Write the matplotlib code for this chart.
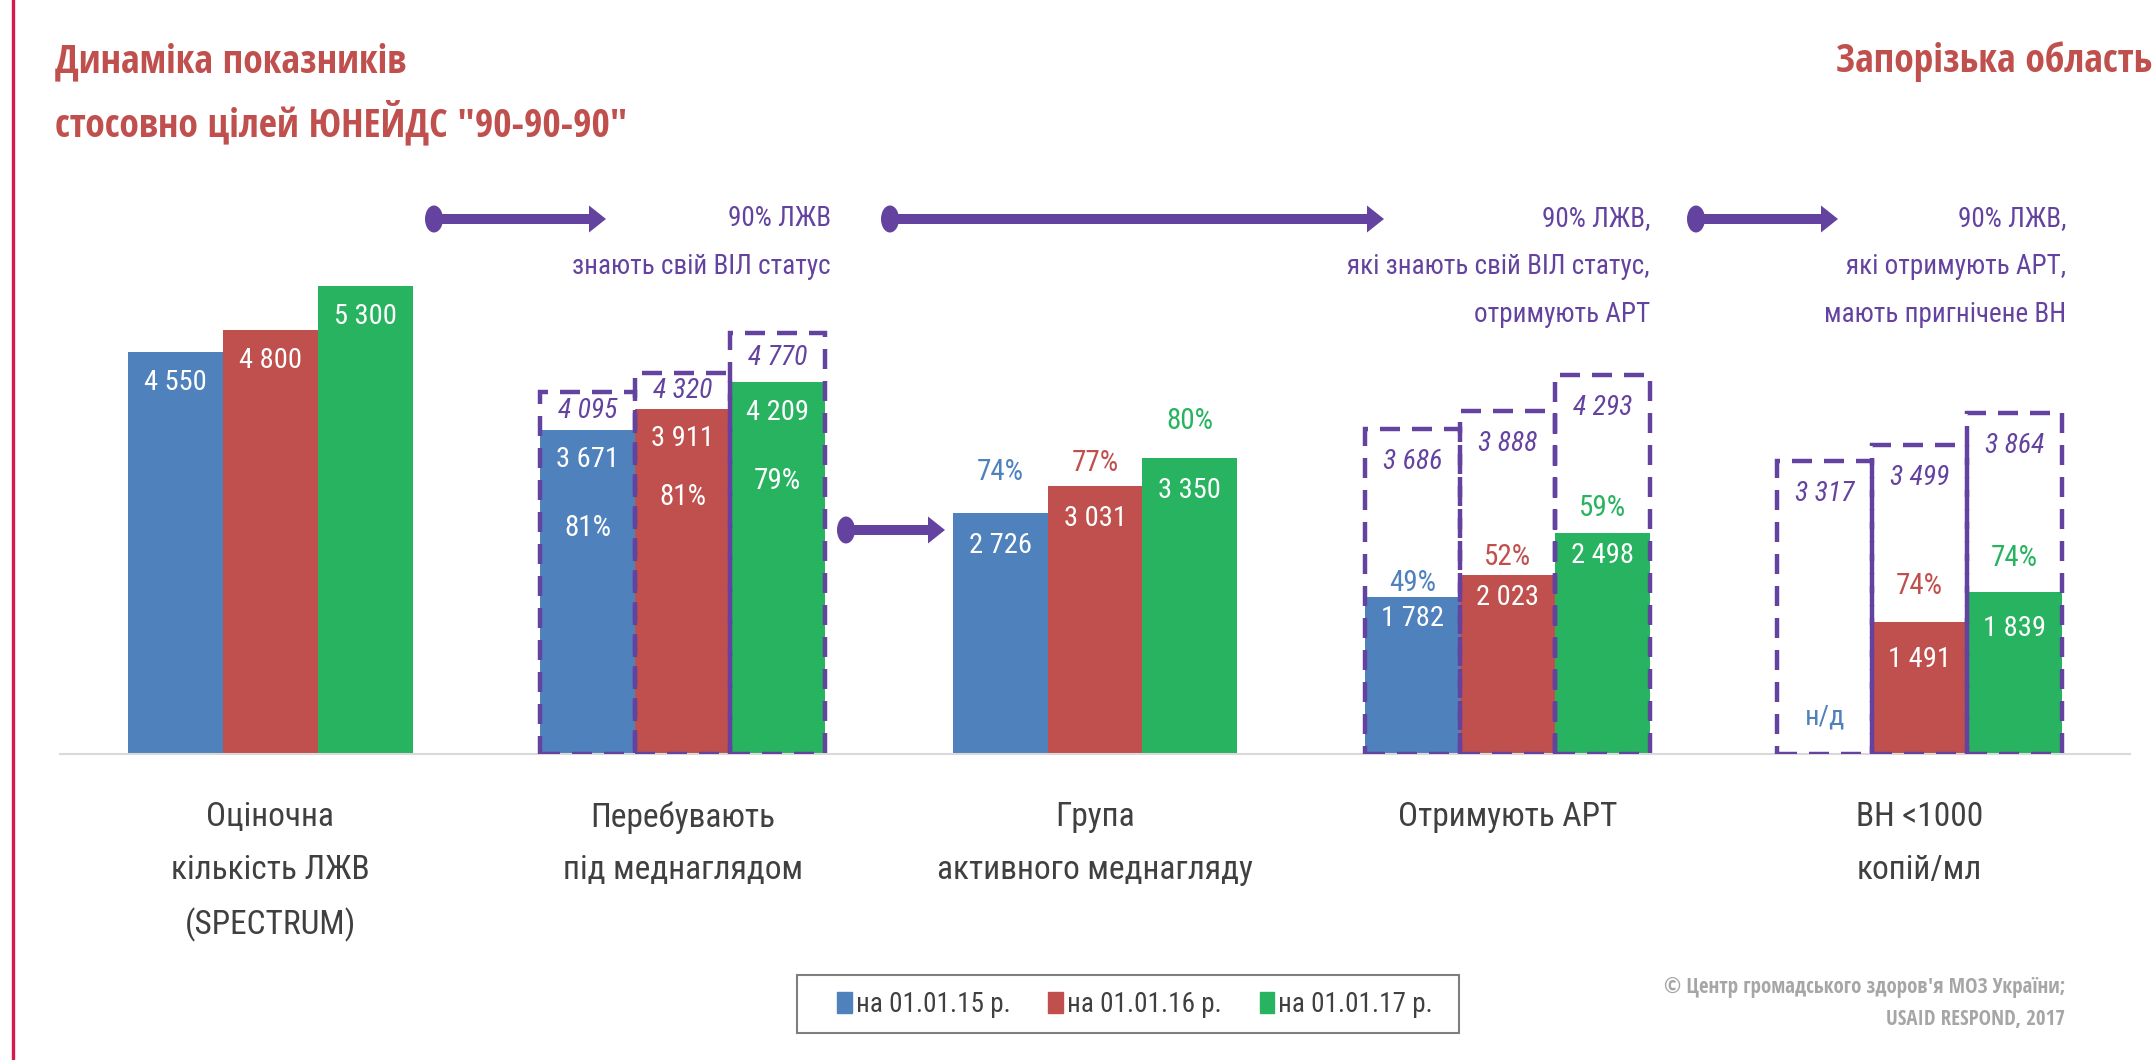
import matplotlib
matplotlib.use('Agg')
import matplotlib.pyplot as plt
import numpy as np
from matplotlib import font_manager
from matplotlib.patches import Ellipse, FancyArrow, Patch, Rectangle

# Data
categories = ['Оціночна\nкількість ЛЖВ\n(SPECTRUM)', 'Перебувають\nпід меднаглядом',
              'Група\nактивного меднагляду', 'Отримують АРТ', 'ВН <1000\nкопій/мл']
series_labels = ['на 01.01.15 р.', 'на 01.01.16 р.', 'на 01.01.17 р.']
values_15 = [4550, 3671, 2726, 1782, np.nan]
values_16 = [4800, 3911, 3031, 2023, 1491]
values_17 = [5300, 4209, 3350, 2498, 1839]
target_15 = [np.nan, 4095, np.nan, 3686, 3317]
target_16 = [np.nan, 4320, np.nan, 3888, 3499]
target_17 = [np.nan, 4770, np.nan, 4293, 3864]
pct_15 = [np.nan, 81, 74, 49, np.nan]
pct_16 = [np.nan, 81, 77, 52, 74]
pct_17 = [np.nan, 79, 80, 59, 74]
no_data = 'н/д'

goal_texts = [['90% ЛЖВ', 'знають свій ВІЛ статус'],
              ['90% ЛЖВ,', 'які знають свій ВІЛ статус,', 'отримують АРТ'],
              ['90% ЛЖВ,', 'які отримують АРТ,', 'мають пригнічене ВН']]

# Styles
COLORS = ['#4f81bd', '#c0504d', '#27b35f']
PURPLE = '#6443a0'
TITLE_RED = '#c0504d'
GRAY_TEXT = '#404040'

# narrow fonts, the slide was squeezed sideways
names = {f.name for f in font_manager.fontManager.ttflist}
REG = next((n for n in ['Liberation Sans Narrow', 'Open Sans Condensed Light', 'Roboto Condensed',
                        'Liberation Sans'] if n in names), 'DejaVu Sans')
BOLD = next((n for n in ['Open Sans Condensed', 'Liberation Sans Narrow', 'Liberation Sans']
             if n in names), 'DejaVu Sans')
plt.rcParams['font.family'] = [REG, 'DejaVu Sans']

W, H = 2155, 1060
fig = plt.figure(figsize=(W / 100, H / 100), dpi=100)

# main axes: baseline at y=754px, 0.0883 px per person
ax = fig.add_axes([60 / W, 1 - 754 / H, 2070 / W, 0.4998])
ax.set_xlim(-0.51, 4.51)
ax.set_ylim(0, 6000)
for s in ['top', 'right', 'left']:
    ax.spines[s].set_visible(False)
ax.spines['bottom'].set_color('#d9d9d9')
ax.spines['bottom'].set_linewidth(1.5)
ax.set_yticks([])

x = np.arange(len(categories))
width = 0.23
offsets = [-width, 0, width]
all_values = [values_15, values_16, values_17]
all_targets = [target_15, target_16, target_17]
all_pct = [pct_15, pct_16, pct_17]

ax.set_xticks(x, categories)
ax.tick_params(axis='x', length=0, pad=34, labelsize=24, labelcolor=GRAY_TEXT)
for lbl in ax.get_xticklabels():
    lbl.set_linespacing(1.82)

value_off = [30, 30, 32, 22, 37]
# pixel offset of the % label from the bar top, per series and group
pct_off = [[0, -98, 41, 14, 0],
           [0, -88, 23, 18, 36],
           [0, -99, 37, 25, 34]]


def fmt(v):
    return f'{int(v):,}'.replace(',', ' ')


for i in range(3):
    vals = np.array(all_values[i], dtype=float)
    tgts = np.array(all_targets[i], dtype=float)
    ax.bar(x + offsets[i], vals, width, color=COLORS[i], zorder=2, label=series_labels[i])
    ax.bar(x + offsets[i], tgts, width, fill=False, edgecolor=PURPLE, linewidth=3.2,
           linestyle=(0, (4.5, 2.7)), zorder=3)
    for g in range(len(categories)):
        xc = x[g] + offsets[i]
        v = vals[g]
        if not np.isnan(v):
            ax.annotate(fmt(v), (xc, v), xytext=(0, -value_off[g]), textcoords='offset pixels',
                        ha='center', va='center', color='white', fontsize=20.5, zorder=4)
        else:
            ax.annotate(no_data, (xc, 0), xytext=(0, 37), textcoords='offset pixels',
                        ha='center', va='center', color=COLORS[i], fontsize=20.5, zorder=4)
        t = tgts[g]
        if not np.isnan(t):
            if g == 1:
                ty, toff = (t + v) / 2, 0
            else:
                ty, toff = t, -33
            ax.annotate(fmt(t), (xc, ty), xytext=(0, toff), textcoords='offset pixels',
                        ha='center', va='center', color=PURPLE, fontsize=20,
                        style='italic', zorder=4)
        p = all_pct[i][g]
        if not np.isnan(p):
            off = pct_off[i][g]
            ax.annotate(f'{int(p)}%', (xc, v), xytext=(0, off), textcoords='offset pixels',
                        ha='center', va='center', color='white' if off < 0 else COLORS[i],
                        fontsize=21, zorder=4)

# overlay in pixel coordinates for slide decorations
ov = fig.add_axes([0, 0, 1, 1], zorder=5)
ov.set_xlim(0, W)
ov.set_ylim(H, 0)
ov.axis('off')
ov.patch.set_alpha(0)

ov.plot([13, 13], [0, H], color='#d7194b', lw=2.4)

title_kw = dict(fontsize=28.5, weight='bold', color=TITLE_RED, va='center', family=[BOLD, 'DejaVu Sans'])
ov.text(55, 62, 'Динаміка показників', **title_kw)
ov.text(55, 124, 'стосовно цілей ЮНЕЙДС "90-90-90"', **title_kw)
ov.text(2152, 62, 'Запорізька область', ha='right', **title_kw)

text_right = [831, 1650, 2066]
for xr, lines in zip(text_right, goal_texts):
    for k, line in enumerate(lines):
        ov.text(xr, 219 + 48 * k, line, ha='right', va='center', fontsize=19.5, color=PURPLE)

arrows = [(434, 606, 219), (890, 1384, 219), (1696, 1838, 219), (846, 945, 530)]
for x0, x1, y0 in arrows:
    ov.add_patch(FancyArrow(x0, y0, x1 - x0, 0, width=10, head_width=27, head_length=17,
                            length_includes_head=True, color=PURPLE, lw=0))
    ov.add_patch(Ellipse((x0, y0), 18, 27, color=PURPLE, lw=0))

# legend
ov.add_patch(Rectangle((797, 975), 662, 58, fill=False, edgecolor='#7f7f7f', lw=1.5))
handles = [Patch(color=c) for c in COLORS]
fig.legend(handles, series_labels, loc='center', bbox_to_anchor=(1135 / W, 1 - 1004 / H),
           ncol=3, fontsize=19.5, frameon=False, handlelength=0.54, handleheight=0.82,
           handletextpad=0.15, columnspacing=1.4, labelcolor=GRAY_TEXT)

foot_kw = dict(ha='right', va='center', fontsize=15, weight='bold', color='#a6a6a6',
               family=[BOLD, 'DejaVu Sans'])
ov.text(2065, 987, '© Центр громадського здоров\'я МОЗ України;', **foot_kw)
ov.text(2065, 1020, 'USAID RESPOND, 2017', **foot_kw)

fig.savefig('out.png', dpi=100, facecolor='white')
